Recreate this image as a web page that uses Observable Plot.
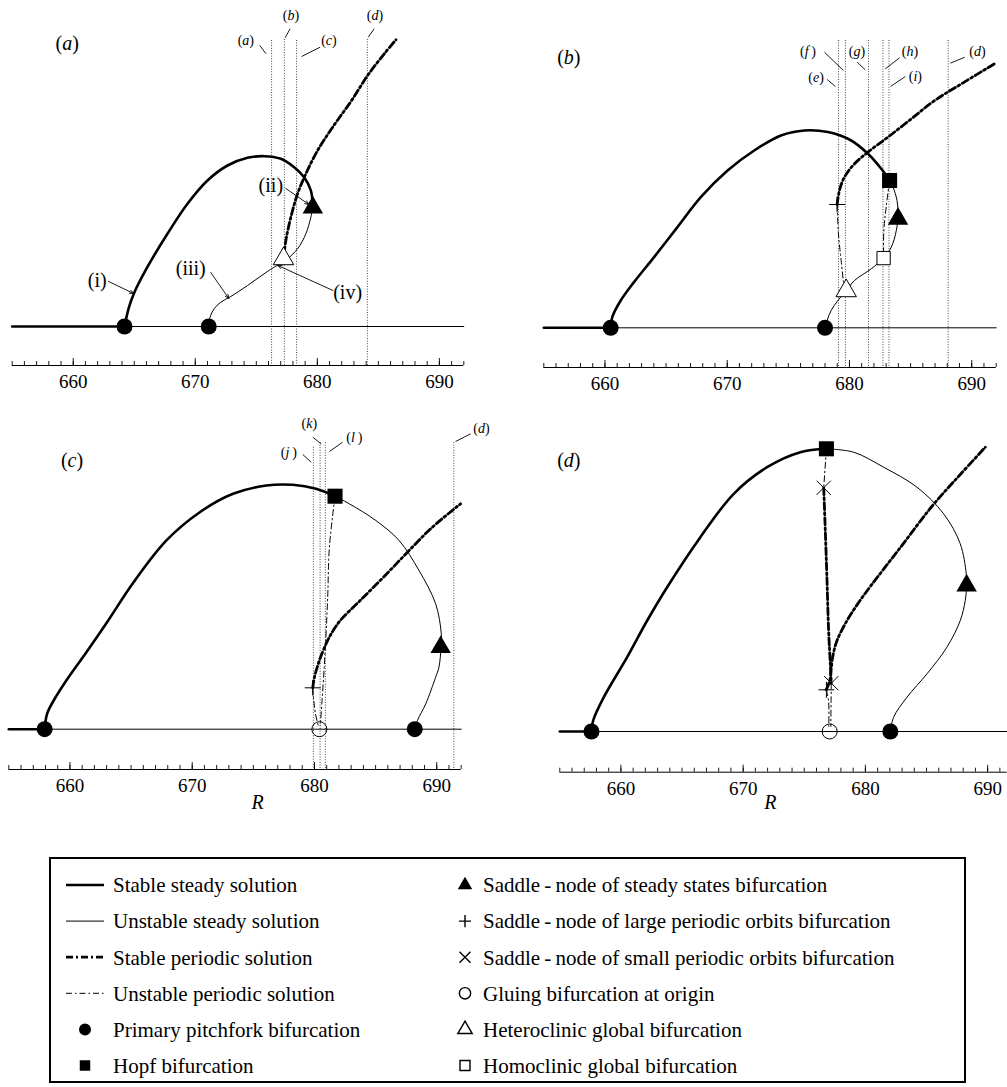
<!DOCTYPE html>
<html><head><meta charset="utf-8">
<script src="https://cdn.jsdelivr.net/npm/d3@7"></script>
<script src="https://cdn.jsdelivr.net/npm/@observablehq/plot@0.6"></script>
<style>
body{margin:0;background:#fff;}
#root{position:relative;width:1007px;height:1087px;overflow:hidden;background:#fff;font-family:"Liberation Serif","DejaVu Serif",serif;}
.panel{position:absolute;}
.panel svg{overflow:visible;display:block;}
</style></head><body><div id="root"></div>
<script>
// ---------- axis ticks ----------
const minorTicks = d3.range(655, 693);
const minorTicksD = d3.range(655, 692);
const majorTicks = [660, 670, 680, 690];

// ---------- panel (a) ----------
const aStableBase = [[655, 0], [664.2, 0]];
const aUnstableBase = [[664.2, 0], [692, 0]];
const aStableSteady = [[664.2,0],[664.57,1.93],[664.98,3.33],[666.07,5.93],[667.72,9.27],[669.36,12.27],[671.0,14.6],[672.64,16.1],[674.28,16.87],[675.64,17.03],[677.01,16.77],[678.1,15.93],[678.92,14.93],[679.47,13.6],[679.63,11.9]];
const aUnstableSteady = [[679.63,11.9],[679.47,10.93],[679.06,9.27],[678.38,7.77],[677.56,6.77],[677.01,6.27],[676.6,6.03],[675.64,5.27],[674.28,4.1],[672.91,3.0],[672.09,2.43],[671.54,1.77],[671.21,0.93],[671.1,0]];
const aStablePeriodic = [[677.23,6.77],[677.42,8.6],[677.83,10.93],[678.38,13.27],[679.06,15.27],[680.02,17.6],[681.38,20.15],[682.75,22.5],[684.12,25.1],[685.48,27.27],[686.44,28.67]];
const aPitchfork = [[664.2,0],[671.1,0]];
const aSaddleNode = [[679.63,11.9]];
const aHeteroclinic = [[677.23,6.77]];
const aRefs = [
  {R:676.25, top:28.6, label:"(a)", lx:674.14, ly:28.6, x1:675.29, y1:28.1, x2:675.78, y2:27.3},
  {R:677.3, top:28.7, label:"(b)", lx:677.84, ly:31.1, x1:677.77, y1:29.77, x2:677.36, y2:28.87},
  {R:678.3, top:28.6, label:"(c)", lx:680.95, ly:28.6, x1:680.23, y1:27.93, x2:678.71, y2:27.0},
  {R:684.1, top:28.7, label:"(d)", lx:684.72, ly:31.1, x1:684.66, y1:29.77, x2:684.17, y2:28.93}
];
const aNotes = [
  {label:"(i)", lx:661.97, ly:4.6, x1:662.9, y1:4.5, x2:664.95, y2:3.3},
  {label:"(ii)", lx:676.19, ly:14.1, x1:677.42, y1:13.8, x2:679.31, y2:12.2},
  {label:"(iii)", lx:669.63, ly:5.8, x1:671.27, y1:5.4, x2:672.75, y2:2.8},
  {label:"(iv)", lx:682.48, ly:3.43, x1:681.28, y1:3.6, x2:676.77, y2:6.1}
];
const aTitle = [{label:"(a)", R:659.51, A:28.3}];

// ---------- panel (b) ----------
const bStableBase = [[655,0],[660.47,0]];
const bUnstableBase = [[660.47,0],[692,0]];
const bStableSteady = [[660.47,0],[660.6,1.07],[661.29,2.73],[662.38,4.57],[664.02,7.07],[665.93,10.07],[667.84,13.07],[670.03,15.73],[672.21,17.73],[674.4,19.23],[676.31,19.73],[678.23,19.57],[680.14,18.73],[681.51,17.4],[682.6,15.9],[683.28,14.73]];
const bUnstableSteady = [[683.28,14.73],[683.56,14.07],[683.89,12.73],[683.97,11.4],[683.83,9.73],[683.42,8.07],[682.79,6.97],[681.78,5.9],[680.41,4.73],[679.73,3.7],[679.05,2.73],[678.5,1.73],[678.17,0.73],[678.0,0]];
const bStablePeriodic = [[678.99,12.33],[679.18,13.73],[679.59,15.07],[680.41,16.4],[681.51,17.57],[683.15,19.07],[685.06,20.9],[686.97,22.73],[689.16,24.4],[692.0,26.5]];
const bUnstablePeriodicLarge = [[678.99,12.33],[679.1,9.4],[679.32,6.73],[679.59,4.07],[679.73,3.7]];
const bUnstablePeriodicSmall = [[683.28,14.73],[683.0,12.07],[682.81,9.73],[682.79,6.97]];
const bPitchfork = [[660.47,0],[678.0,0]];
const bHopf = [[683.28,14.73]];
const bSaddleNode = [[683.97,10.9]];
const bHomoclinic = [[682.79,6.97]];
const bHeteroclinic = [[679.73,3.7]];
const bPlus = [[678.99,12.33]];
const bRefs = [
  {R:679.1, top:28.73, label:"(e)", lx:677.27, ly:25.06, x1:678.17, y1:24.83, x2:678.85, y2:24.13},
  {R:679.67, top:28.73, label:"(f\u2009)", lx:676.61, ly:27.66, x1:677.95, y1:27.56, x2:679.51, y2:25.73},
  {R:681.56, top:28.73, label:"(g)", lx:680.61, ly:27.66, x1:680.63, y1:26.56, x2:681.29, y2:25.8},
  {R:682.74, top:28.73, label:"(h)", lx:684.95, ly:27.66, x1:684.1, y1:27.0, x2:682.93, y2:25.9},
  {R:683.23, top:28.73, label:"(i)", lx:685.39, ly:25.13, x1:684.57, y1:25.13, x2:683.36, y2:24.13},
  {R:688.07, top:28.73, label:"(d)", lx:690.47, ly:27.66, x1:689.43, y1:27.06, x2:688.25, y2:26.46}
];
const bTitle = [{label:"(b)", R:657.05, A:27.0}];

// ---------- panel (c) ----------
const cStableBase = [[655,0],[657.93,0]];
const cUnstableBase = [[657.93,0],[692,0]];
const cStableSteady = [[657.93,0],[658.13,1.54],[658.67,2.87],[659.76,4.97],[661.39,7.77],[663.02,10.67],[665.19,14.67],[667.91,18.9],[670.62,21.7],[673.34,23.54],[676.06,24.37],[678.23,24.44],[680.13,24.04],[681.68,23.3]];
const cUnstableSteady = [[681.68,23.3],[682.85,22.54],[685.02,20.87],[686.92,18.87],[688.55,15.87],[689.91,12.54],[690.37,9.54],[690.35,8.2],[690.18,6.2],[689.91,5.2],[689.1,2.54],[688.42,0.87],[688.2,0]];
const cStablePeriodic = [[679.86,4.14],[680.0,5.2],[680.4,6.87],[680.95,8.54],[681.3,9.4],[682.11,10.87],[683.74,12.87],[685.64,15.2],[687.74,17.87],[689.64,20.2],[691.95,22.54]];
const cUnstablePeriodicLarge = [[679.86,4.14],[679.94,2.87],[680.08,1.54],[680.3,0.4]];
const cUnstablePeriodicSmall = [[681.68,23.3],[681.22,18.2],[681.08,13.2],[680.89,8.2],[680.62,2.87],[680.48,0.4]];
const cPitchfork = [[657.93,0],[688.2,0]];
const cHopf = [[681.68,23.3]];
const cSaddleNode = [[690.32,8.2]];
const cPlus = [[679.86,4.14]];
const cGluing = [[680.4,0]];
const cRefs = [
  {R:679.91, top:28.2, label:"(j\u2009)", lx:677.9, ly:27.7, x1:679.04, y1:27.47, x2:679.73, y2:26.7},
  {R:680.46, top:28.67, label:"(k)", lx:679.58, ly:30.54, x1:679.86, y1:29.2, x2:680.54, y2:28.54},
  {R:680.89, top:28.67, label:"(l\u2009)", lx:683.26, ly:29.2, x1:682.3, y1:28.7, x2:681.22, y2:27.77},
  {R:691.4, top:28.67, label:"(d)", lx:693.66, ly:30.04, x1:692.77, y1:29.54, x2:691.54, y2:28.77}
];
const cTitle = [{label:"(c)", R:660.17, A:26.87}];
const cAxisTitle = [{label:"R", R:675.35}];

// ---------- panel (d) ----------
const dStableBase = [[655,0],[657.59,0]];
const dUnstableBase = [[657.59,0],[691.6,0]];
const dStableSteady = [[657.59,0],[657.73,1.1],[658.6,3.43],[660.51,7.43],[662.15,11.1],[663.78,14.43],[666.5,19.43],[669.23,23.77],[671.96,26.43],[674.68,27.93],[676.81,28.27]];
const dUnstableSteady = [[676.81,28.27],[679.04,27.93],[681.49,26.43],[684.22,24.43],[686.4,21.77],[687.76,18.77],[688.25,15.77],[688.28,14.6],[688.17,13.1],[687.76,11.1],[686.67,8.43],[685.04,5.77],[683.4,3.43],[682.31,1.43],[682.04,0]];
const dStablePeriodicLarge = [[676.81,4.17],[677.1,5.2],[677.19,6.1],[677.32,7.43],[677.68,9.1],[678.5,11.1],[679.45,12.9],[680.4,14.5],[682.86,18.4],[685.5,22.6],[687.76,25.7],[689.81,28.43]];
const dStablePeriodicSmall = [[676.59,24.37],[676.72,20.1],[676.86,15.1],[676.99,10.1],[677.13,6.77],[677.21,4.83]];
const dUnstablePeriodicTop = [[676.81,28.27],[676.59,24.37]];
const dUnstablePeriodicLow1 = [[677.21,4.83],[677.19,3.0],[677.17,0.5]];
const dUnstablePeriodicLow2 = [[676.81,4.17],[676.99,3.0],[677.0,0.5]];
const dPitchfork = [[657.59,0],[682.04,0]];
const dHopf = [[676.81,28.27]];
const dSaddleNode = [[688.28,14.6]];
const dTimes = [[676.59,24.37],[677.21,4.83]];
const dPlus = [[676.81,4.17]];
const dGluing = [[677.08,0]];
const dTitle = [{label:"(d)", R:655.74, A:27.1}];
const dAxisTitle = [{label:"R", R:672.23}];

// ---------- legend ----------
const legendLeft = ["Stable steady solution","Unstable steady solution","Stable periodic solution","Unstable periodic solution","Primary pitchfork bifurcation","Hopf bifurcation"];
const legendRight = ["Saddle\u2009-\u2009node of steady states bifurcation","Saddle\u2009-\u2009node of large periodic orbits bifurcation","Saddle\u2009-\u2009node of small periodic orbits bifurcation","Gluing bifurcation at origin","Heteroclinic global bifurcation","Homoclinic global bifurcation"];

// ---------- styles ----------
const FONT = "Liberation Serif";
const S = {
  stableSteady: {stroke:"#000", strokeWidth:2.6},
  unstableSteady: {stroke:"#000", strokeWidth:1},
  stablePeriodic: {stroke:"#000", strokeWidth:2.8, strokeDasharray:"7,3,2,3"},
  unstablePeriodic: {stroke:"#000", strokeWidth:1, strokeDasharray:"6,3,1.5,3"}
};
const px = d => d[0], py = d => d[1];
const line = (data, style, curve = "catmull-rom") => Plot.line(data, {x: px, y: py, curve, ...style});
const M = {
  pitchfork: data => Plot.dot(data, {x: px, y: py, symbol: "circle", r: 8, fill: "#000", stroke: "none"}),
  hopf: data => Plot.dot(data, {x: px, y: py, symbol: "square", r: 8.5, fill: "#000", stroke: "none"}),
  saddle: data => Plot.dot(data, {x: px, y: py, symbol: "triangle", r: 7.6, fill: "#000", stroke: "none"}),
  hetero: data => Plot.dot(data, {x: px, y: py, symbol: "triangle", r: 7.6, fill: "#fff", stroke: "#000", strokeWidth: 1}),
  homo: data => Plot.dot(data, {x: px, y: py, symbol: "square", r: 7.5, fill: "#fff", stroke: "#000", strokeWidth: 1}),
  plus: data => Plot.dot(data, {x: px, y: py, symbol: "plus", r: 5.2, fill: "none", stroke: "#000", strokeWidth: 1}),
  times: data => Plot.dot(data, {x: px, y: py, symbol: "times", r: 6.5, fill: "none", stroke: "#000", strokeWidth: 1}),
  gluing: data => Plot.dot(data, {x: px, y: py, symbol: "circle", r: 7.5, fill: "none", stroke: "#000", strokeWidth: 1})
};
function axisMarks(yMin, ticks) {
  return [
    Plot.ruleY([yMin], {stroke: "#000", strokeWidth: 1}),
    Plot.axisX({ticks: ticks, tickSize: -4, tickFormat: () => "", label: null, strokeWidth: 0.9}),
    Plot.axisX({ticks: majorTicks, tickSize: -7, tickFormat: () => "", label: null, strokeWidth: 0.9}),
    Plot.axisX({ticks: majorTicks, tickSize: 0, tickPadding: 9, label: null, fontSize: 19, tickFormat: d => String(d)})
  ];
}
function refMarks(refs, yMin) {
  return [
    Plot.ruleX(refs, {x: "R", y1: "top", y2: yMin, stroke: "#333", strokeWidth: 0.9, strokeDasharray: "1,1.6"}),
    Plot.link(refs, {x1: "x1", y1: "y1", x2: "x2", y2: "y2", stroke: "#000", strokeWidth: 0.9}),
    Plot.text(refs, {x: "lx", y: "ly", text: "label", fontSize: 14, fill: "#000", ariaDescription: "italic"})
  ];
}
function titleMark(t) {
  return Plot.text(t, {x: "R", y: "A", text: "label", fontSize: 20, fill: "#000", ariaDescription: "italic"});
}
function makePanel({left, top, width, height, mL, mR, mT, mB, xDomain, yDomain, marks}) {
  const svg = Plot.plot({
    width, height, marginLeft: mL, marginRight: mR, marginTop: mT, marginBottom: mB,
    x: {domain: xDomain}, y: {domain: yDomain, axis: null},
    style: {background: "transparent", overflow: "visible", fontFamily: FONT, fontSize: "19px", color: "#000"},
    marks
  });
  const div = document.createElement("div");
  div.className = "panel";
  div.style.left = left + "px"; div.style.top = top + "px";
  div.appendChild(svg);
  document.getElementById("root").appendChild(div);
  italicize(svg);
  return svg;
}
function italicize(svg) {
  const ns = "http://www.w3.org/2000/svg";
  svg.querySelectorAll('g[aria-description="italic"] text').forEach(t => {
    const m = t.textContent.match(/^\((.*)\)$/);
    if (!m) return;
    t.textContent = "";
    const a = document.createElementNS(ns, "tspan"); a.textContent = "(";
    const b = document.createElementNS(ns, "tspan"); b.textContent = m[1]; b.setAttribute("font-style", "italic");
    const c = document.createElementNS(ns, "tspan"); c.textContent = ")";
    t.append(a, b, c);
  });
}

// panel (a)
makePanel({left: 0, top: 0, width: 500, height: 400, mL: 11.7, mR: 36.7, mT: 10, mB: 35,
  xDomain: [655, 692], yDomain: [-3.9, 31.6],
  marks: [
    ...refMarks(aRefs, -3.9),
    line(aStableBase, S.stableSteady, "linear"),
    line(aUnstableBase, S.unstableSteady, "linear"),
    line(aStableSteady, S.stableSteady),
    line(aUnstableSteady, S.unstableSteady),
    line(aStablePeriodic, S.stablePeriodic),
    M.pitchfork(aPitchfork), M.saddle(aSaddleNode), M.hetero(aHeteroclinic),
    Plot.arrow(aNotes, {x1: "x1", y1: "y1", x2: "x2", y2: "y2", stroke: "#000", strokeWidth: 0.9, headLength: 7, headAngle: 45}),
    Plot.text(aNotes, {x: "lx", y: "ly", text: "label", fontSize: 20, fill: "#000"}),
    titleMark(aTitle),
    ...axisMarks(-3.9, minorTicks)
  ]});

// panel (b)
makePanel({left: 500, top: 0, width: 507, height: 400, mL: 43.3, mR: 11.3, mT: 10, mB: 33,
  xDomain: [655, 692], yDomain: [-3.97, 31.73],
  marks: [
    ...refMarks(bRefs, -3.97),
    line(bStableBase, S.stableSteady, "linear"),
    line(bUnstableBase, S.unstableSteady, "linear"),
    line(bStableSteady, S.stableSteady),
    line(bUnstableSteady, S.unstableSteady),
    line(bStablePeriodic, S.stablePeriodic),
    line(bUnstablePeriodicLarge, S.unstablePeriodic),
    line(bUnstablePeriodicSmall, S.unstablePeriodic),
    M.pitchfork(bPitchfork), M.hopf(bHopf), M.saddle(bSaddleNode), M.homo(bHomoclinic), M.hetero(bHeteroclinic), M.plus(bPlus),
    titleMark(bTitle),
    ...axisMarks(-3.97, minorTicks)
  ]});

// panel (c)
makePanel({left: 0, top: 400, width: 500, height: 430, mL: 8.3, mR: 39.3, mT: 10, mB: 61,
  xDomain: [655, 692], yDomain: [-4.03, 31.87],
  marks: [
    ...refMarks(cRefs, -4.03),
    line(cStableBase, S.stableSteady, "linear"),
    line(cUnstableBase, S.unstableSteady, "linear"),
    line(cStableSteady, S.stableSteady),
    line(cUnstableSteady, S.unstableSteady),
    line(cStablePeriodic, S.stablePeriodic),
    line(cUnstablePeriodicLarge, S.unstablePeriodic),
    line(cUnstablePeriodicSmall, S.unstablePeriodic),
    M.pitchfork(cPitchfork), M.hopf(cHopf), M.saddle(cSaddleNode), M.plus(cPlus), M.gluing(cGluing),
    titleMark(cTitle),
    ...axisMarks(-4.03, minorTicks),
    Plot.text(cAxisTitle, {x: "R", frameAnchor: "bottom", dy: 39, text: "label", fontSize: 20, fontStyle: "italic", fill: "#000"})
  ]});

// panel (d)
makePanel({left: 500, top: 400, width: 507, height: 430, mL: 59.3, mR: 0.3, mT: 10, mB: 58.3,
  xDomain: [655, 691.6], yDomain: [-4.07, 32.1],
  marks: [
    line(dStableBase, S.stableSteady, "linear"),
    line(dUnstableBase, S.unstableSteady, "linear"),
    line(dStableSteady, S.stableSteady),
    line(dUnstableSteady, S.unstableSteady),
    line(dStablePeriodicLarge, S.stablePeriodic),
    line(dStablePeriodicSmall, S.stablePeriodic),
    line(dUnstablePeriodicTop, S.unstablePeriodic, "linear"),
    line(dUnstablePeriodicLow1, S.unstablePeriodic),
    line(dUnstablePeriodicLow2, S.unstablePeriodic),
    M.pitchfork(dPitchfork), M.hopf(dHopf), M.saddle(dSaddleNode), M.times(dTimes), M.plus(dPlus), M.gluing(dGluing),
    titleMark(dTitle),
    ...axisMarks(-4.07, minorTicksD),
    Plot.text(dAxisTitle, {x: "R", frameAnchor: "bottom", dy: 36.3, text: "label", fontSize: 20, fontStyle: "italic", fill: "#000"})
  ]});

// ---------- legend (drawn as SVG with real text) ----------
(function legend() {
  const top = 857, W = 1007, H = 230;
  const svg = d3.create("svg").attr("width", W).attr("height", H)
    .style("position", "absolute").style("left", "0px").style("top", top + "px")
    .style("font-family", FONT);
  svg.append("rect").attr("x", 50).attr("y", 1).attr("width", 915).attr("height", 224)
    .attr("fill", "none").attr("stroke", "#000").attr("stroke-width", 2);
  const rowY = i => 28 + i * 36.1;
  const xL0 = 66, xL1 = 104, xLm = 85, xLt = 113;
  const xRm = 465, xRt = 483;
  const lineStyles = [S.stableSteady, S.unstableSteady, S.stablePeriodic, S.unstablePeriodic];
  lineStyles.forEach((s, i) => {
    svg.append("line").attr("x1", xL0).attr("x2", xL1).attr("y1", rowY(i)).attr("y2", rowY(i))
      .attr("stroke", "#000").attr("stroke-width", s.strokeWidth)
      .attr("stroke-dasharray", s.strokeDasharray || null);
  });
  const sym = (type, size) => d3.symbol(type, size)();
  svg.append("path").attr("d", sym(d3.symbolCircle, 113)).attr("transform", `translate(${xLm},${rowY(4)})`).attr("fill", "#000");
  svg.append("path").attr("d", sym(d3.symbolSquare, 110)).attr("transform", `translate(${xLm},${rowY(5)})`).attr("fill", "#000");
  const rightSyms = [
    {t: d3.symbolTriangle, s: 90, fill: "#000", stroke: "none"},
    {t: d3.symbolPlus, s: 50, fill: "none", stroke: "#000"},
    {t: d3.symbolTimes, s: 80, fill: "none", stroke: "#000"},
    {t: d3.symbolCircle, s: 100, fill: "none", stroke: "#000"},
    {t: d3.symbolTriangle, s: 90, fill: "none", stroke: "#000"},
    {t: d3.symbolSquare, s: 100, fill: "none", stroke: "#000"}
  ];
  rightSyms.forEach((r, i) => {
    svg.append("path").attr("d", sym(r.t, r.s)).attr("transform", `translate(${xRm},${rowY(i)})`)
      .attr("fill", r.fill).attr("stroke", r.stroke).attr("stroke-width", 1.4);
  });
  legendLeft.forEach((t, i) => svg.append("text").attr("x", xLt).attr("y", rowY(i)).attr("dy", "0.35em")
    .attr("font-size", 21).text(t));
  legendRight.forEach((t, i) => svg.append("text").attr("x", xRt).attr("y", rowY(i)).attr("dy", "0.35em")
    .attr("font-size", 21).text(t));
  document.getElementById("root").appendChild(svg.node());
})();
</script>
</body></html>
